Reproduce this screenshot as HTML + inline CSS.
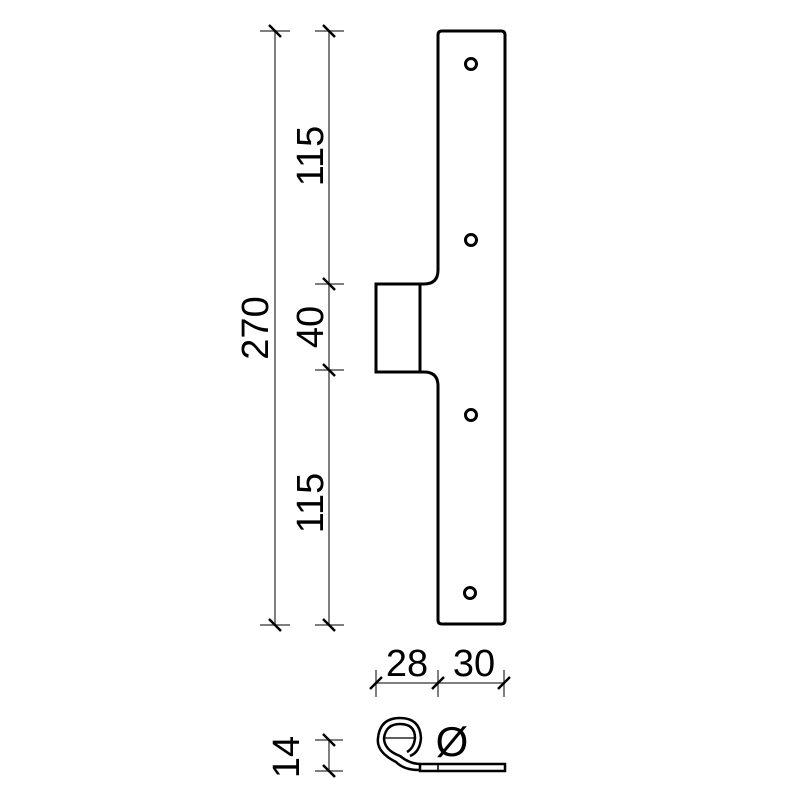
<!DOCTYPE html>
<html><head><style>body{margin:0;background:#fff}</style></head><body>
<svg width="800" height="800" viewBox="0 0 800 800" xmlns="http://www.w3.org/2000/svg" font-family="Liberation Sans, sans-serif">
<rect width="800" height="800" fill="#fff"/>
<g stroke="#555" stroke-width="1.5" fill="none">
<line x1="275" y1="31" x2="275" y2="625"/>
<line x1="329" y1="31" x2="329" y2="625"/>
<line x1="260" y1="31" x2="290" y2="31"/>
<line x1="315" y1="31" x2="344" y2="31"/>
<line x1="260" y1="625" x2="290" y2="625"/>
<line x1="315" y1="625" x2="344" y2="625"/>
<line x1="315" y1="284" x2="344" y2="284"/>
<line x1="315" y1="370" x2="344" y2="370"/>
<line x1="376" y1="683" x2="504" y2="683"/>
<line x1="376" y1="670" x2="376" y2="697"/>
<line x1="438" y1="670" x2="438" y2="697"/>
<line x1="504" y1="670" x2="504" y2="697"/>
<line x1="329" y1="740" x2="329" y2="771"/>
<line x1="315" y1="740" x2="343" y2="740"/>
<line x1="315" y1="771" x2="343" y2="771"/>
</g>
<g stroke="#000" stroke-width="2.5">
<line x1="269" y1="25" x2="281" y2="37"/><line x1="323" y1="25" x2="335" y2="37"/>
<line x1="269" y1="619" x2="281" y2="631"/><line x1="323" y1="619" x2="335" y2="631"/>
<line x1="323" y1="278" x2="335" y2="290"/><line x1="323" y1="364" x2="335" y2="376"/>
<line x1="370" y1="689" x2="382" y2="677"/><line x1="432" y1="689" x2="444" y2="677"/><line x1="498" y1="689" x2="510" y2="677"/>
<line x1="323" y1="734" x2="335" y2="746"/><line x1="323" y1="765" x2="335" y2="777"/>
</g>
<g stroke="#000" stroke-width="3" fill="none">
<path d="M442 31 H501 Q505 31 505 35 V620 Q505 624 501 624 H442 Q438 624 438 620 V386 Q438 372 424 372 H376 V284 H424 Q438 284 438 270 V35 Q438 31 442 31 Z"/>
<line x1="420" y1="284" x2="420" y2="372"/>
<circle cx="471" cy="64" r="5.5"/>
<circle cx="471" cy="240" r="5.5"/>
<circle cx="471" cy="415" r="5.5"/>
<circle cx="470" cy="593" r="5.5"/>
</g>
<g stroke="#000" stroke-width="2.5" fill="none">
<path d="M420 770 L419 770 Q404 770 396 762 Q376 752 378 738 Q380 718 400 718 Q420 718 421 738 Q420 752 410 756"/>
<path d="M420 764 Q410 764 400 756 Q384 750 384 738 Q386 724 400 724 Q415 724 415 738 Q414 748 407 752"/>
<rect x="420" y="764" width="85" height="7"/>
<line x1="438" y1="764" x2="438" y2="771" stroke-width="1.5"/>
<line x1="383" y1="738" x2="415" y2="738" stroke-width="1.2"/>
</g>
<g font-size="38" fill="#000" text-anchor="middle">
<text transform="translate(268,328) rotate(-90)">270</text>
<text transform="translate(323,156) rotate(-90)">115</text>
<text transform="translate(323,327) rotate(-90)">40</text>
<text transform="translate(323,503) rotate(-90)">115</text>
<text transform="translate(299,757) rotate(-90)">14</text>
<text x="407" y="676">28</text>
<text x="474" y="676">30</text>
<text x="452" y="756" font-size="42">Ø</text>
</g>
</svg>
</body></html>
